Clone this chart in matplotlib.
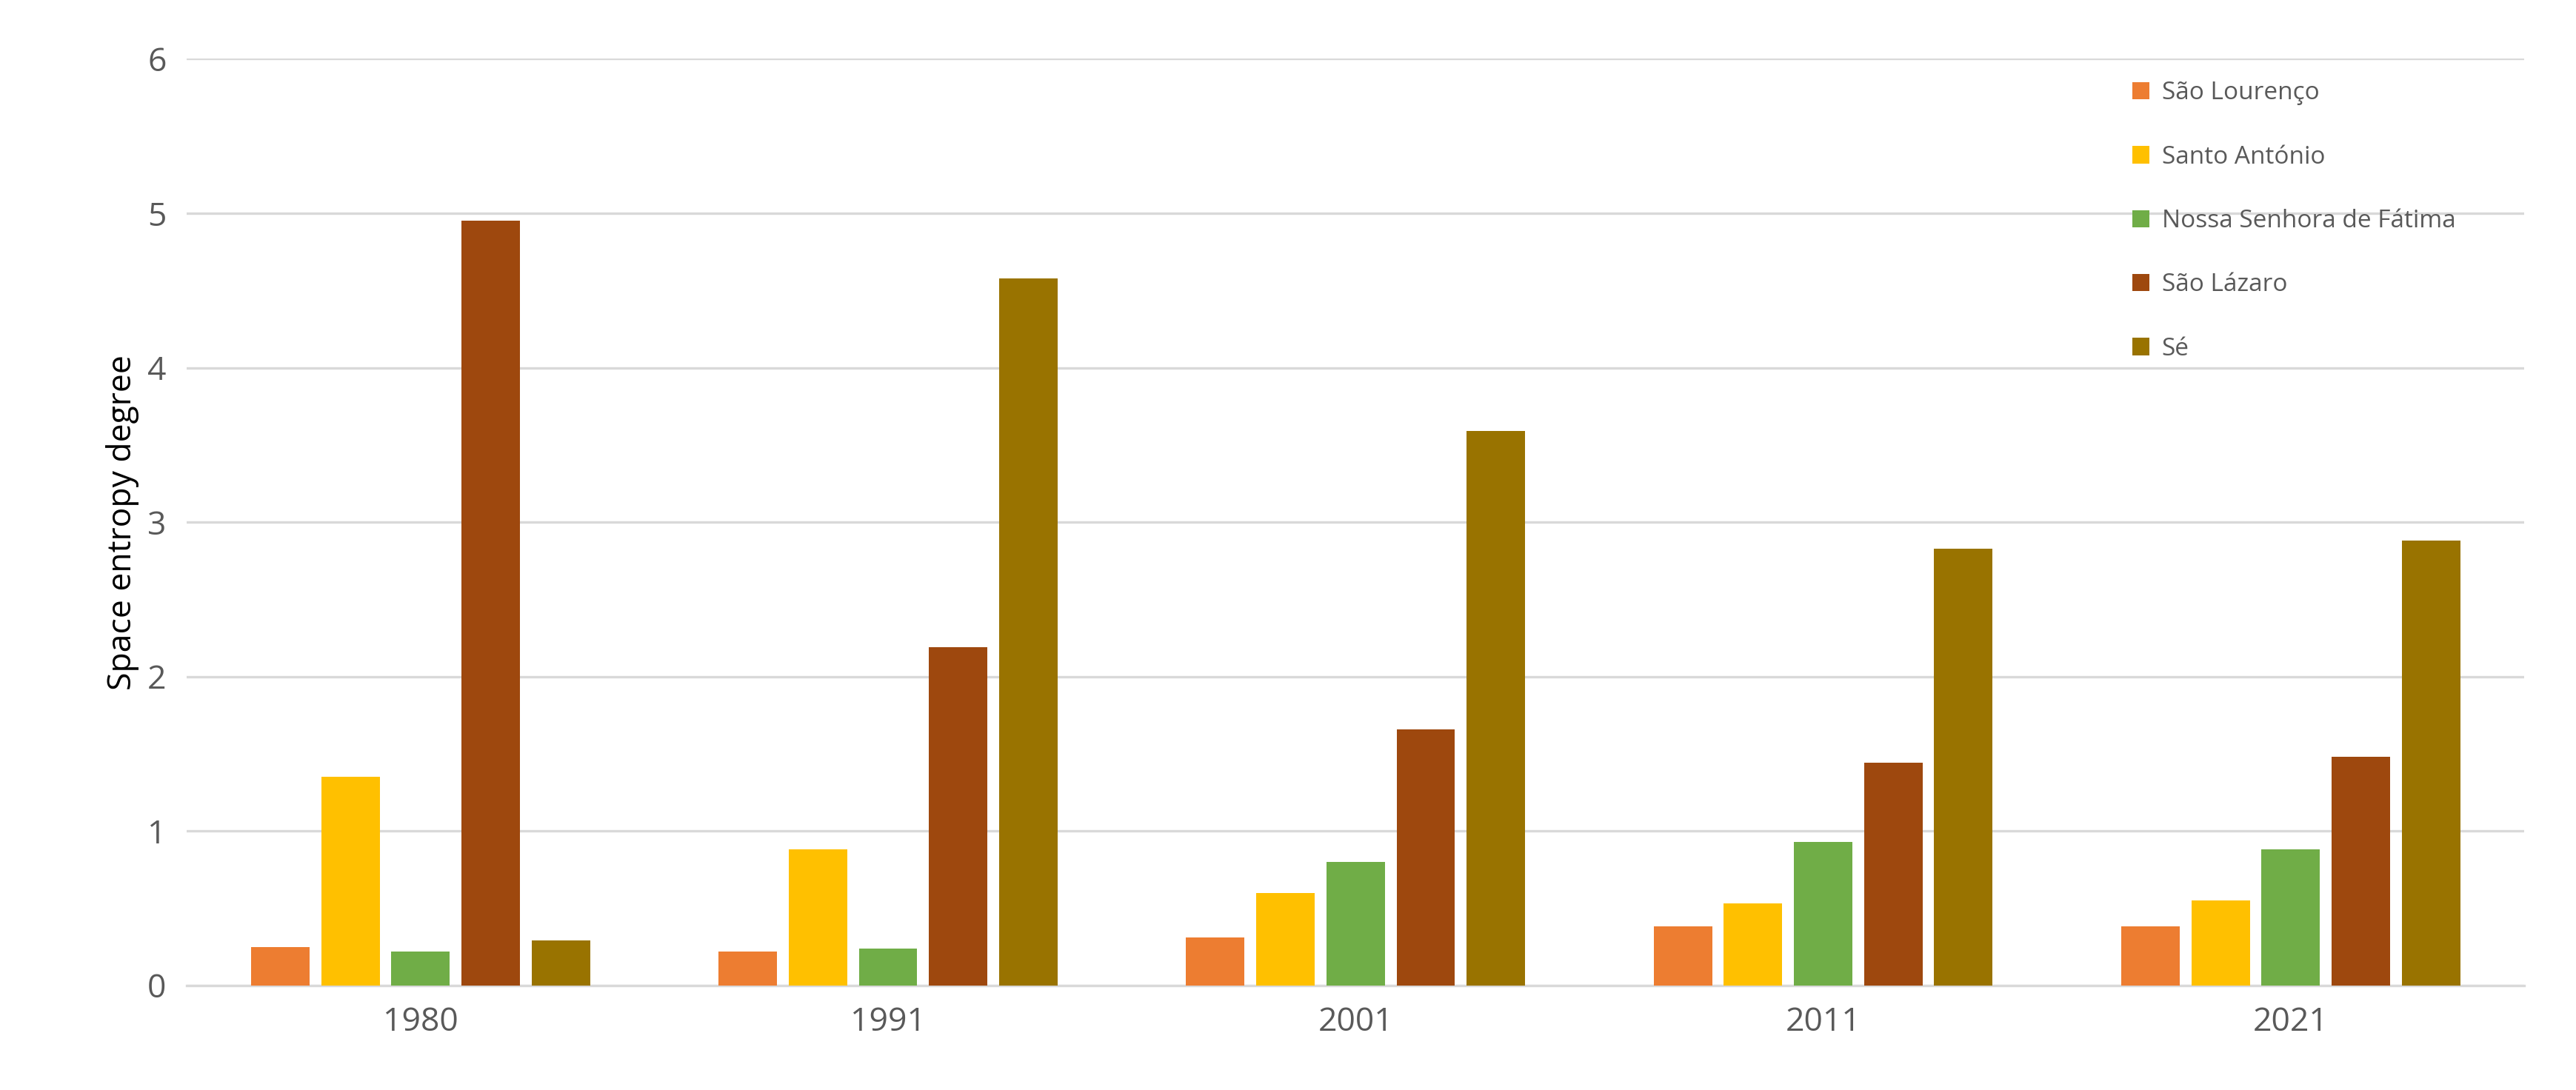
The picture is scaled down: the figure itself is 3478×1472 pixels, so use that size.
import matplotlib.pyplot as plt
import numpy as np

years = ["1980", "1991", "2001", "2011", "2021"]
parishes = ["São Lourenço", "Santo António", "Nossa Senhora de Fátima", "São Lázaro", "Sé"]
sao_lourenco = [0.25, 0.22, 0.31, 0.38, 0.38]
santo_antonio = [1.35, 0.88, 0.60, 0.53, 0.55]
fatima = [0.22, 0.24, 0.80, 0.93, 0.88]
sao_lazaro = [4.95, 2.19, 1.66, 1.44, 1.48]
se = [0.29, 4.58, 3.59, 2.83, 2.88]
series = [sao_lourenco, santo_antonio, fatima, sao_lazaro, se]
colors = ["#ED7D31", "#FFC000", "#70AD47", "#9E480E", "#997300"]

plt.rcParams['font.family'] = ['Open Sans', 'DejaVu Sans']
fig = plt.figure(figsize=(17.39, 7.36), dpi=200)
ax = fig.add_axes([0.0725, 0.096, 0.9075, 0.85])

x = np.arange(len(years))
step = 0.15
width = 0.125
for i, (vals, name, c) in enumerate(zip(series, parishes, colors)):
    ax.bar(x + (i - 2) * step, vals, width, color=c, label=name, zorder=3)

ax.set_xlim(-0.5, 4.5)
ax.set_ylim(0, 6)
ax.set_yticks(range(7))
ax.set_xticks(x)
ax.set_xticklabels(years)
ax.tick_params(length=0, labelsize=16, colors="#595959", pad=10)
ax.grid(axis="y", color="#D9D9D9", linewidth=1.2, zorder=0)
for s in ["top", "right", "left"]:
    ax.spines[s].set_visible(False)
ax.spines["bottom"].set_color("#D9D9D9")
ax.spines["bottom"].set_linewidth(1.2)
ax.set_ylabel("Space entropy degree", fontsize=16, color="black")

leg = ax.legend(loc="upper right", bbox_to_anchor=(0.98, 1.0), frameon=False,
                fontsize=12, labelspacing=1.6, handlelength=0.7, handleheight=0.7,
                handletextpad=0.5)
for t in leg.get_texts():
    t.set_color("#595959")

fig.savefig("out.png", dpi=200)
